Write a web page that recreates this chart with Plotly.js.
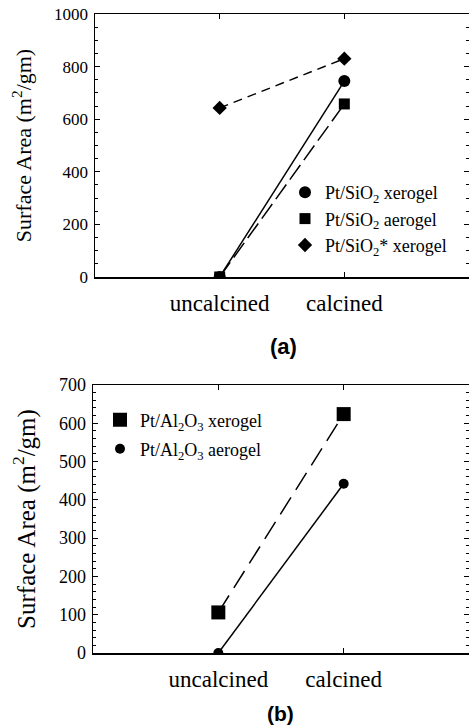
<!DOCTYPE html>
<html>
<head>
<meta charset="utf-8">
<script src="https://cdn.plot.ly/plotly-3.0.1.min.js"></script>
<style>html,body{margin:0;padding:0;background:#fff;}#chart{width:469px;height:726px;}</style>
</head>
<body>
<div id="chart"></div>
<script>
// Categories (positions 1, 2 on axis with range 0..3)
const categories = ["uncalcined", "calcined"];
const catPos = [1, 2];

// Panel (a) series
const sio2Xerogel = [0, 745];
const sio2Aerogel = [0, 658];
const sio2StarXerogel = [643, 830];

// Panel (b) series
const al2o3Xerogel = [106, 624];
const al2o3Aerogel = [0, 442];

const W = 469, H = 726;
const serif = "Liberation Serif, Times New Roman, serif";
const black = "#000";

function lineTrace(y, dash, xa, ya) {
  return {x: catPos, y: y, mode: "lines", xaxis: xa, yaxis: ya, showlegend: false,
    line: {color: black, width: 1.5, dash: dash}, hoverinfo: "skip"};
}
function markTrace(y, name, symbol, size, xa, ya, legend) {
  return {x: catPos, y: y, mode: "markers", name: name, xaxis: xa, yaxis: ya, legend: legend,
    marker: {color: black, symbol: symbol, size: size}};
}

const data = [
  lineTrace(sio2Xerogel, "solid", "x", "y"),
  lineTrace(sio2Aerogel, "18px,6px", "x", "y"),
  lineTrace(sio2StarXerogel, "9px,6px", "x", "y"),
  markTrace(sio2Xerogel, "Pt/SiO<sub>2</sub> xerogel", "circle", 12, "x", "y", "legend"),
  markTrace(sio2Aerogel, "Pt/SiO<sub>2</sub> aerogel", "square", 11, "x", "y", "legend"),
  markTrace(sio2StarXerogel, "Pt/SiO<sub>2</sub>* xerogel", "diamond", 11, "x", "y", "legend"),
  lineTrace(al2o3Xerogel, "20px,9px", "x2", "y2"),
  lineTrace(al2o3Aerogel, "solid", "x2", "y2"),
  markTrace(al2o3Xerogel, "Pt/Al<sub>2</sub>O<sub>3</sub> xerogel", "square", 14, "x2", "y2", "legend2"),
  markTrace(al2o3Aerogel, "Pt/Al<sub>2</sub>O<sub>3</sub> aerogel", "circle", 10, "x2", "y2", "legend3")
];

function xAxis(domain, anchor) {
  return {domain: domain, anchor: anchor, range: [0, 3], tickmode: "array",
    tickvals: catPos, ticktext: categories, ticks: "inside", ticklen: 5, tickwidth: 1,
    tickcolor: black, showline: true, linecolor: black, linewidth: 1.5, mirror: "ticks",
    showgrid: false, zeroline: false, fixedrange: true, ticklabelstandoff: 5,
    tickfont: {family: serif, size: 23, color: black}};
}
function yAxis(domain, anchor, range, dtick, minorDtick, tickSize, titleSize) {
  return {domain: domain, anchor: anchor, range: range, dtick: dtick, ticks: "inside",
    ticklen: 5, tickwidth: 1, tickcolor: black, showline: true, linecolor: black,
    linewidth: 1.5, mirror: "ticks", showgrid: false, zeroline: false, fixedrange: true,
    ticklabelstandoff: 2,
    tickfont: {family: serif, size: tickSize, color: black},
    minor: {dtick: minorDtick, ticks: "inside", ticklen: 3, tickcolor: black, tickwidth: 1, showgrid: false},
    title: {text: "Surface Area (m<sup>2</sup>/gm)", font: {family: serif, size: titleSize, color: black}, standoff: 16}};
}

const legFont = {family: serif, size: 18, color: black};
const layout = {
  width: W, height: H,
  margin: {l: 0, r: 0, t: 0, b: 0},
  paper_bgcolor: "#fff", plot_bgcolor: "#fff",
  xaxis: xAxis([95 / W, 1], "y"),
  yaxis: yAxis([1 - 277 / H, 1 - 14 / H], "x", [0, 1000], 200, 50, 17, 22),
  xaxis2: xAxis([93 / W, 1], "y2"),
  yaxis2: yAxis([1 - 653 / H, 1 - 385 / H], "x2", [0, 700], 100, 20, 18, 25),
  legend: {x: 285 / W, y: 1 - 174 / H, xanchor: "left", yanchor: "top",
    bgcolor: "rgba(0,0,0,0)", font: legFont},
  legend2: {x: 100 / W, y: 1 - 420 / H, xanchor: "left", yanchor: "middle",
    bgcolor: "rgba(0,0,0,0)", font: legFont},
  legend3: {x: 100 / W, y: 1 - 449 / H, xanchor: "left", yanchor: "middle",
    bgcolor: "rgba(0,0,0,0)", font: legFont},
  annotations: [
    {text: "(a)", x: 283 / W, y: 1 - 346 / H, xref: "paper", yref: "paper", showarrow: false,
      xanchor: "center", yanchor: "middle",
      font: {family: "Liberation Sans, Arial, sans-serif", size: 22, color: black, weight: "bold"}},
    {text: "(b)", x: 280 / W, y: 1 - 713 / H, xref: "paper", yref: "paper", showarrow: false,
      xanchor: "center", yanchor: "middle",
      font: {family: "Liberation Sans, Arial, sans-serif", size: 21, color: black, weight: "bold"}}
  ],
  showlegend: true
};

Plotly.newPlot("chart", data, layout, {staticPlot: true, displayModeBar: false});
</script>
</body>
</html>
